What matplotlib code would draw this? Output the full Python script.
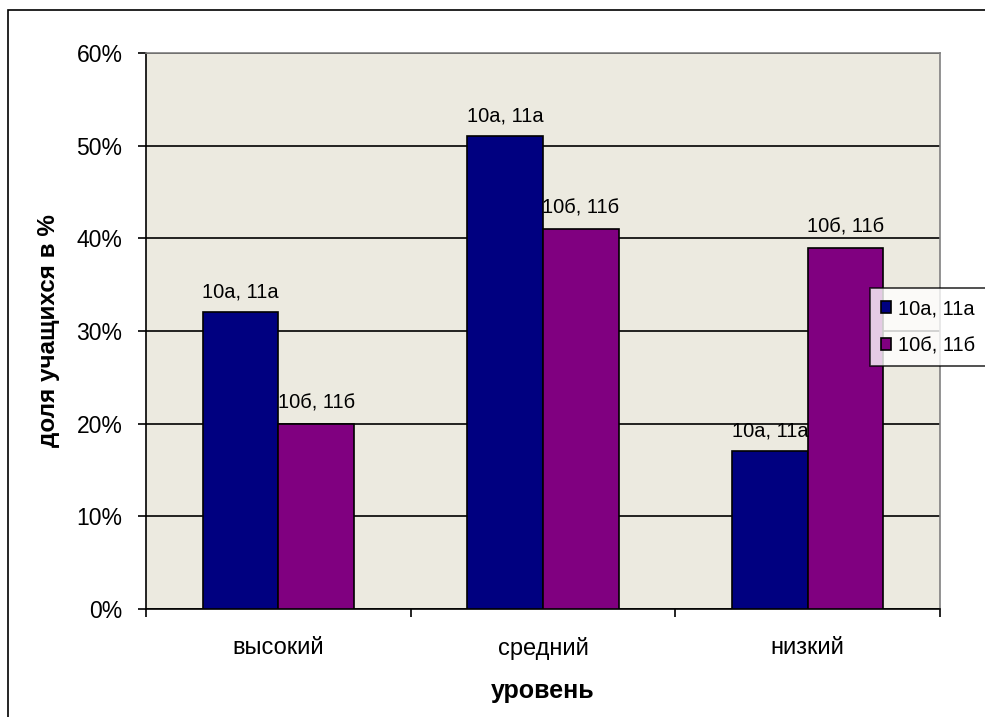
import matplotlib
matplotlib.use("Agg")
import matplotlib.pyplot as plt
from matplotlib.patches import Rectangle
from matplotlib.ticker import FixedLocator, NullFormatter
import numpy as np

plt.rcParams['font.family'] = ['Liberation Sans', 'DejaVu Sans']

categories = ["высокий", "средний", "низкий"]
series_names = ["10а, 11а", "10б, 11б"]
values_a = [32, 51, 17]
values_b = [20, 41, 39]
y_ticks = [0, 10, 20, 30, 40, 50, 60]
colors = ["#000080", "#800080"]

fig = plt.figure(figsize=(9.85, 7.17), dpi=100)
fig.patch.set_facecolor("white")
fig.patches.append(Rectangle((8 / 985, -0.2), 1.5, 0.986 + 0.2, transform=fig.transFigure,
                             fill=False, edgecolor="black", linewidth=1.2))

ax = fig.add_axes([146 / 985, 108 / 717, 794 / 985, 556 / 717])
ax.set_facecolor("#ECEAE0")

x = np.arange(len(categories))
w = 1 / 3.5
series = [values_a, values_b]
for i, (vals, name, col) in enumerate(zip(series, series_names, colors)):
    pos = x + (i - 0.5) * w
    ax.bar(pos, vals, width=w, color=col, edgecolor="black", linewidth=1.2,
           label=name, zorder=3)
    for px, v in zip(pos, vals):
        ax.text(px, v + 1.2, name, ha="center", va="bottom", fontsize=14.5, zorder=4)

ax.set_xlim(-0.5, 2.5)
ax.set_ylim(0, 60)
ax.set_yticks(y_ticks)
ax.set_yticklabels([f"{t}%" for t in y_ticks], fontsize=16.5)
ax.yaxis.grid(True, color="black", linewidth=1.2, zorder=0)
ax.set_axisbelow(True)

ax.set_xticks(x)
ax.set_xticklabels(categories, fontsize=17)
ax.tick_params(axis="x", which="major", length=0, pad=20)
ax.xaxis.set_minor_locator(FixedLocator([-0.5, 0.5, 1.5, 2.5]))
ax.xaxis.set_minor_formatter(NullFormatter())
ax.tick_params(axis="x", which="minor", length=6, width=1.2, color="black")
ax.tick_params(axis="y", length=6, width=1.2, pad=11)

for side in ["top", "right"]:
    ax.spines[side].set_color("#808080")
    ax.spines[side].set_linewidth(1.2)
for side in ["left", "bottom"]:
    ax.spines[side].set_color("black")
    ax.spines[side].set_linewidth(1.2)

ax.set_ylabel("доля учащихся в %", fontsize=17.5, fontweight="bold", labelpad=12)
ax.set_xlabel("уровень", fontsize=18, fontweight="bold", labelpad=14)

leg = ax.legend(loc="upper left", bbox_to_anchor=(870 / 985, 1 - 288 / 717),
                bbox_transform=fig.transFigure, fontsize=14.5, frameon=True,
                fancybox=False, edgecolor="black", handlelength=0.5, handleheight=0.5,
                handletextpad=0.35, labelspacing=0.9, borderpad=0.55, borderaxespad=0)
leg.get_frame().set_linewidth(1.2)
leg.set_zorder(10)

fig.savefig("out.png", dpi=100)
